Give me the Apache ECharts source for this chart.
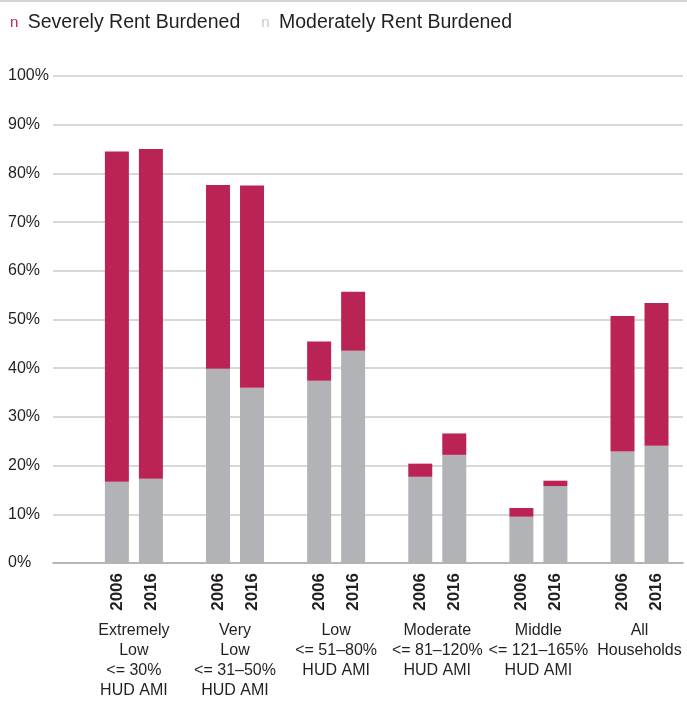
<!DOCTYPE html>
<html>
<head>
<meta charset="utf-8">
<script src="https://cdn.jsdelivr.net/npm/echarts@6/dist/echarts.min.js"></script>
<style>
  html, body { margin: 0; padding: 0; background: #fff; overflow: hidden; }
  #box { width: 100vw; height: 100vh; }
</style>
</head>
<body>
<div id="box"></div>
<script>
// 数据
var groups = ['Extremely\nLow\n<= 30%\nHUD AMI', 'Very\nLow\n<= 31–50%\nHUD AMI', 'Low\n<= 51–80%\nHUD AMI',
  'Moderate\n<= 81–120%\nHUD AMI', 'Middle\n<= 121–165%\nHUD AMI', 'All\nHouseholds'];
var years = ['2006', '2016'];
var moderate2006 = [16.7, 39.9, 37.4, 17.7, 9.5, 22.9];
var severe2006 = [67.8, 37.7, 8.1, 2.7, 1.8, 27.8];
var moderate2016 = [17.3, 36.0, 43.6, 22.2, 15.8, 24.1];
var severe2016 = [67.7, 41.5, 12.1, 4.4, 1.1, 29.3];
var yTicks = [0, 10, 20, 30, 40, 50, 60, 70, 80, 90, 100];

var SEVERE = 'Severely Rent Burdened';
var MODERATE = 'Moderately Rent Burdened';
var red = '#BA2454';
var gray = '#B1B3B6';
var font = 'Liberation Sans';

// [数值, 组序号]，数值放第一维以便堆叠
function pts(arr) {
    return arr.map(function (v, i) { return [v, i]; });
}

function grayBar(year, arr) {
    return {
        name: MODERATE,
        type: 'bar',
        stack: year,
        encode: { x: 1, y: 0 },
        barWidth: 24,
        barGap: '41.7%',
        itemStyle: { color: gray },
        label: {
            show: true,
            position: 'bottom',
            distance: 10,
            rotate: 90,
            align: 'right',
            verticalAlign: 'middle',
            formatter: function () { return year; },
            color: '#231f20',
            fontFamily: font,
            fontWeight: 'bold',
            fontSize: 17
        },
        data: pts(arr)
    };
}

function redBar(year, arr) {
    return {
        name: SEVERE,
        type: 'bar',
        stack: year,
        encode: { x: 1, y: 0 },
        barWidth: 24,
        barGap: '41.7%',
        itemStyle: { color: red },
        data: pts(arr)
    };
}

var myChart = echarts.init(document.getElementById('box'));
var option = {
    animation: false,
    textStyle: { fontFamily: font },
    graphic: [{
        type: 'line',
        shape: { x1: 0, y1: 1, x2: 687, y2: 1 },
        style: { stroke: '#d4d4d4', lineWidth: 2 }
    }],
    legend: {
        left: 0,
        top: 8,
        icon: 'none',
        itemWidth: 0,
        itemGap: 16,
        data: [SEVERE, MODERATE],
        formatter: function (name) {
            return (name === SEVERE ? '{s|n}' : '{g|n}') + '{t| ' + name + '}';
        },
        textStyle: {
            rich: {
                s: { color: red, fontSize: 15, fontFamily: font },
                g: { color: '#c8c9cb', fontSize: 15, fontFamily: font },
                t: { color: '#231f20', fontSize: 19.5, fontFamily: font, padding: [0, 0, 0, 4] }
            }
        }
    },
    grid: {
        left: 53,
        right: 4,
        top: 76,
        bottom: 131
    },
    xAxis: {
        type: 'value',
        min: -0.8,
        max: 5.43,
        splitLine: { show: false },
        axisTick: { show: false },
        axisLine: { show: true, lineStyle: { color: '#a7a9ac', width: 1.5 } },
        axisLabel: {
            customValues: [0, 1, 2, 3, 4, 5],
            formatter: function (v) { return groups[Math.round(v)]; },
            margin: 58,
            lineHeight: 20,
            fontSize: 16,
            color: '#231f20',
            fontFamily: font
        }
    },
    yAxis: {
        type: 'value',
        min: yTicks[0],
        max: yTicks[yTicks.length - 1],
        interval: 10,
        axisLine: { show: false },
        axisTick: { show: false },
        splitLine: { lineStyle: { color: '#cbcbcb', width: 1.5 } },
        axisLabel: {
            formatter: '{value}%',
            align: 'left',
            margin: 45,
            fontSize: 16,
            color: '#231f20',
            fontFamily: font
        }
    },
    series: [
        grayBar(years[0], moderate2006),
        redBar(years[0], severe2006),
        grayBar(years[1], moderate2016),
        redBar(years[1], severe2016)
    ]
};

myChart.setOption(option);
</script>
</body>
</html>
